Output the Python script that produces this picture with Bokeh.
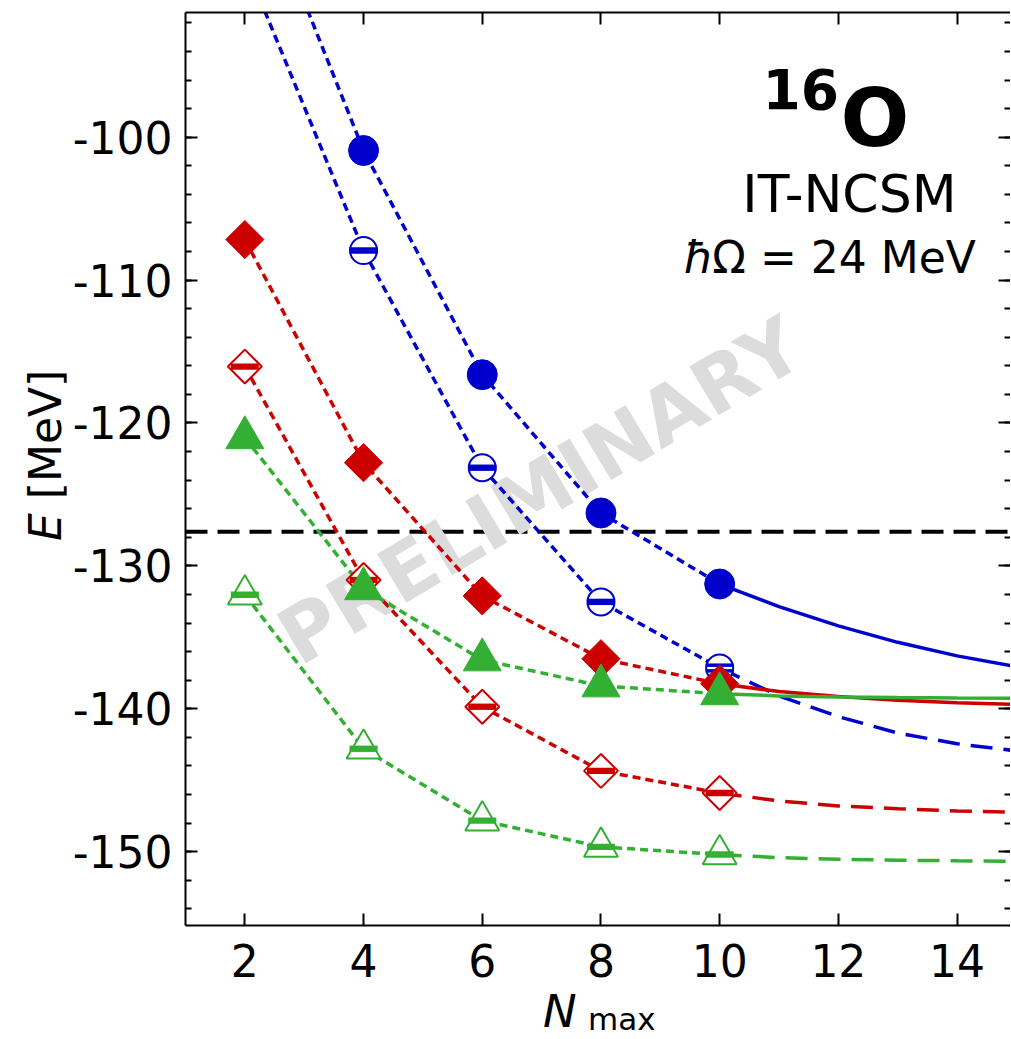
import numpy as np
from bokeh.plotting import figure
from bokeh.layouts import row, column
from bokeh.models import LinearAxis, Range1d, FixedTicker, Label, Span, Div
from bokeh.core.properties import value
from bokeh.embed import file_html
from bokeh.resources import INLINE

# ---------------- data ----------------
nmax = [2, 4, 6, 8, 10]
blue_full = [-80.1, -100.93, -116.62, -126.30, -131.27]
blue_open = [-87.8, -107.93, -123.13, -132.52, -137.15]
blue_open_err = [0.1, 0.1, 0.1, 0.1, 0.2]
red_full = [-107.16, -122.78, -132.10, -136.50, -138.25]
red_open = [-116.05, -130.99, -139.86, -144.35, -145.90]
red_open_err = [0.1, 0.1, 0.1, 0.1, 0.1]
green_full = [-121.03, -131.60, -136.58, -138.40, -138.95]
green_open = [-132.02, -142.80, -147.83, -149.67, -150.20]
green_open_err = [0.1, 0.1, 0.1, 0.1, 0.1]

ext_n = [10, 11, 12, 13, 14, 15]
blue_full_ext = [-131.27, -132.85, -134.2, -135.35, -136.3, -137.05]
blue_open_ext = [-137.15, -139.1, -140.55, -141.7, -142.45, -142.95]
red_full_ext = [-138.25, -138.8, -139.15, -139.4, -139.58, -139.7]
red_open_ext = [-145.9, -146.45, -146.8, -147.0, -147.15, -147.24]
green_full_ext = [-138.95, -139.1, -139.18, -139.22, -139.25, -139.27]
green_open_ext = [-150.2, -150.42, -150.53, -150.6, -150.64, -150.67]

reference_energy = -127.61

x_ticks = [2, 4, 6, 8, 10, 12, 14]
y_ticks = [-150, -140, -130, -120, -110, -100]
y_minor = list(range(-156, -90, 2))
y_tick_text = {v: str(v) for v in y_ticks}

BLUE = "#0000cd"
RED = "#cd0000"
GREEN = "#33b033"
FONT = "DejaVu Sans"

YLAB_W = 66
XLAB_H = 43

# ---------------- figure ----------------
p = figure(frame_width=825, frame_height=913,
           x_range=Range1d(1, 14.9), y_range=Range1d(-155.17, -91.27),
           output_backend="svg", toolbar_location=None,
           min_border_left=185 - YLAB_W, min_border_right=0, min_border_top=12,
           min_border_bottom=70, margin=0)
p.outline_line_color = None
p.xgrid.visible = False
p.ygrid.visible = False
p.background_fill_color = "white"


def style_axis(ax, labels=True, line=True):
    ax.major_tick_in = 12
    ax.major_tick_out = 0
    ax.minor_tick_in = 6
    ax.minor_tick_out = 0
    ax.major_tick_line_width = 2
    ax.minor_tick_line_width = 2
    ax.major_tick_line_color = "black"
    ax.minor_tick_line_color = "black"
    ax.axis_line_width = 2
    ax.axis_line_color = "black" if line else None
    ax.major_label_text_font = FONT
    if labels:
        ax.major_label_text_font_size = "44px"
        ax.major_label_text_color = "black"
    else:
        ax.major_label_text_font_size = "0px"
        ax.major_label_text_color = None
        ax.major_label_standoff = 0


xax = p.xaxis[0]
xax.ticker = FixedTicker(ticks=x_ticks)
style_axis(xax)
xax.major_label_standoff = 18

yax = p.yaxis[0]
yax.ticker = FixedTicker(ticks=y_ticks, minor_ticks=y_minor)
style_axis(yax)
yax.major_label_standoff = 13
yax.major_label_overrides = y_tick_text

top_ax = LinearAxis(ticker=FixedTicker(ticks=x_ticks))
style_axis(top_ax, labels=False)
p.add_layout(top_ax, "above")

right_ax = LinearAxis(ticker=FixedTicker(ticks=y_ticks, minor_ticks=y_minor))
style_axis(right_ax, labels=False, line=False)
p.add_layout(right_ax, "right")

# ---------------- watermark ----------------
wm_x, wm_y = 6.98, -124.75
p.text(x=[wm_x], y=[wm_y], text=["PRELIMINARY"], angle=31, angle_units="deg",
       text_font=value(FONT), text_font_style="bold", text_font_size="78px",
       text_color="#dcdcdc", text_align="center", text_baseline="middle")

# reference line
p.add_layout(Span(location=reference_energy, dimension="width", line_color="black",
                  line_width=4, line_dash="22 10", level="underlay"))

SHORT = "8 5"
LONG = "22 11"
LW = 3.5

series = [
    (BLUE, blue_full, blue_open, blue_open_err, blue_full_ext, blue_open_ext, "circle"),
    (RED, red_full, red_open, red_open_err, red_full_ext, red_open_ext, "diamond"),
    (GREEN, green_full, green_open, green_open_err, green_full_ext, green_open_ext, "triangle"),
]

for color, full, opn, err, fext, oext, kind in series:
    p.line(nmax, full, line_color=color, line_width=LW, line_dash=SHORT)
    p.line(nmax, opn, line_color=color, line_width=LW, line_dash=SHORT)
    p.line(ext_n, fext, line_color=color, line_width=LW)
    p.line(ext_n, oext, line_color=color, line_width=LW, line_dash=LONG)

for color, full, opn, err, fext, oext, kind in series:
    lo = [v - e for v, e in zip(opn, err)]
    hi = [v + e for v, e in zip(opn, err)]
    if kind == "circle":
        p.scatter(nmax, full, marker="circle", size=30, fill_color=color, line_color=color)
        p.scatter(nmax, opn, marker="circle", size=27, fill_color="white",
                  line_color=color, line_width=2)
    elif kind == "diamond":
        p.scatter(nmax, full, marker="square", angle=np.pi / 4, size=27,
                  fill_color=color, line_color=color)
        p.scatter(nmax, opn, marker="square", angle=np.pi / 4, size=24,
                  fill_color="white", line_color=color, line_width=2)
    else:
        p.scatter(nmax, full, marker="triangle", size=38, fill_color=color, line_color=color)
        p.scatter(nmax, opn, marker="triangle", size=34, fill_color="white",
                  line_color=color, line_width=2)
    p.segment(x0=nmax, y0=lo, x1=nmax, y1=hi, line_color=color, line_width=3)
    p.scatter(nmax, lo, marker="dash", size=28, line_color=color, line_width=3.5)
    p.scatter(nmax, hi, marker="dash", size=28, line_color=color, line_width=3.5)

# ---------------- texts inside the frame ----------------
def lab(x, y, text, size, style="normal", align="left", baseline="alphabetic"):
    p.add_layout(Label(x=x, y=y, text=text, text_font=FONT, text_font_size=size,
                       text_font_style=style, text_align=align, text_baseline=baseline,
                       text_color="black"))

lab(10.72, -96.59, "16", "55px", style="bold")
lab(12.037, -98.62, "O", "81px", style="bold")
lab(12.186, -103.94, "IT-NCSM", "52px", align="center")
lab(9.39, -108.42, "ħ", "44px", style="italic")
lab(9.877, -108.42, "Ω = 24 MeV", "44px")

# ---------------- axis titles as real HTML text ----------------
fig_h = 12 + 913 + 70
ylabel_html = (
    f'<div style="position:relative;width:{YLAB_W}px;height:{fig_h}px;overflow:visible;">'
    '<div style="position:absolute;left:24px;top:541px;transform:rotate(-90deg);'
    'transform-origin:0 0;white-space:nowrap;font-family:\'DejaVu Sans\';'
    'font-size:44px;line-height:44px;color:#000;">'
    '<i>E</i> [MeV]</div></div>'
)
xlabel_html = (
    f'<div style="position:relative;width:1010px;height:{XLAB_H}px;overflow:visible;">'
    '<span style="position:absolute;left:543px;top:-3px;white-space:nowrap;'
    'font-family:\'DejaVu Sans\';font-style:italic;font-size:45px;line-height:40px;color:#000;">N</span>'
    '<span style="position:absolute;left:588px;top:12px;white-space:nowrap;'
    'font-family:\'DejaVu Sans\';font-size:31px;line-height:24px;color:#000;">max</span>'
    '</div>'
)
ydiv = Div(text=ylabel_html, width=YLAB_W, height=fig_h, margin=0)
xdiv = Div(text=xlabel_html, width=1010, height=XLAB_H, margin=0)

layout = column(row(ydiv, p, spacing=0, margin=0), xdiv, spacing=0, margin=0)

open("out.html", "w").write(file_html(layout, INLINE))
